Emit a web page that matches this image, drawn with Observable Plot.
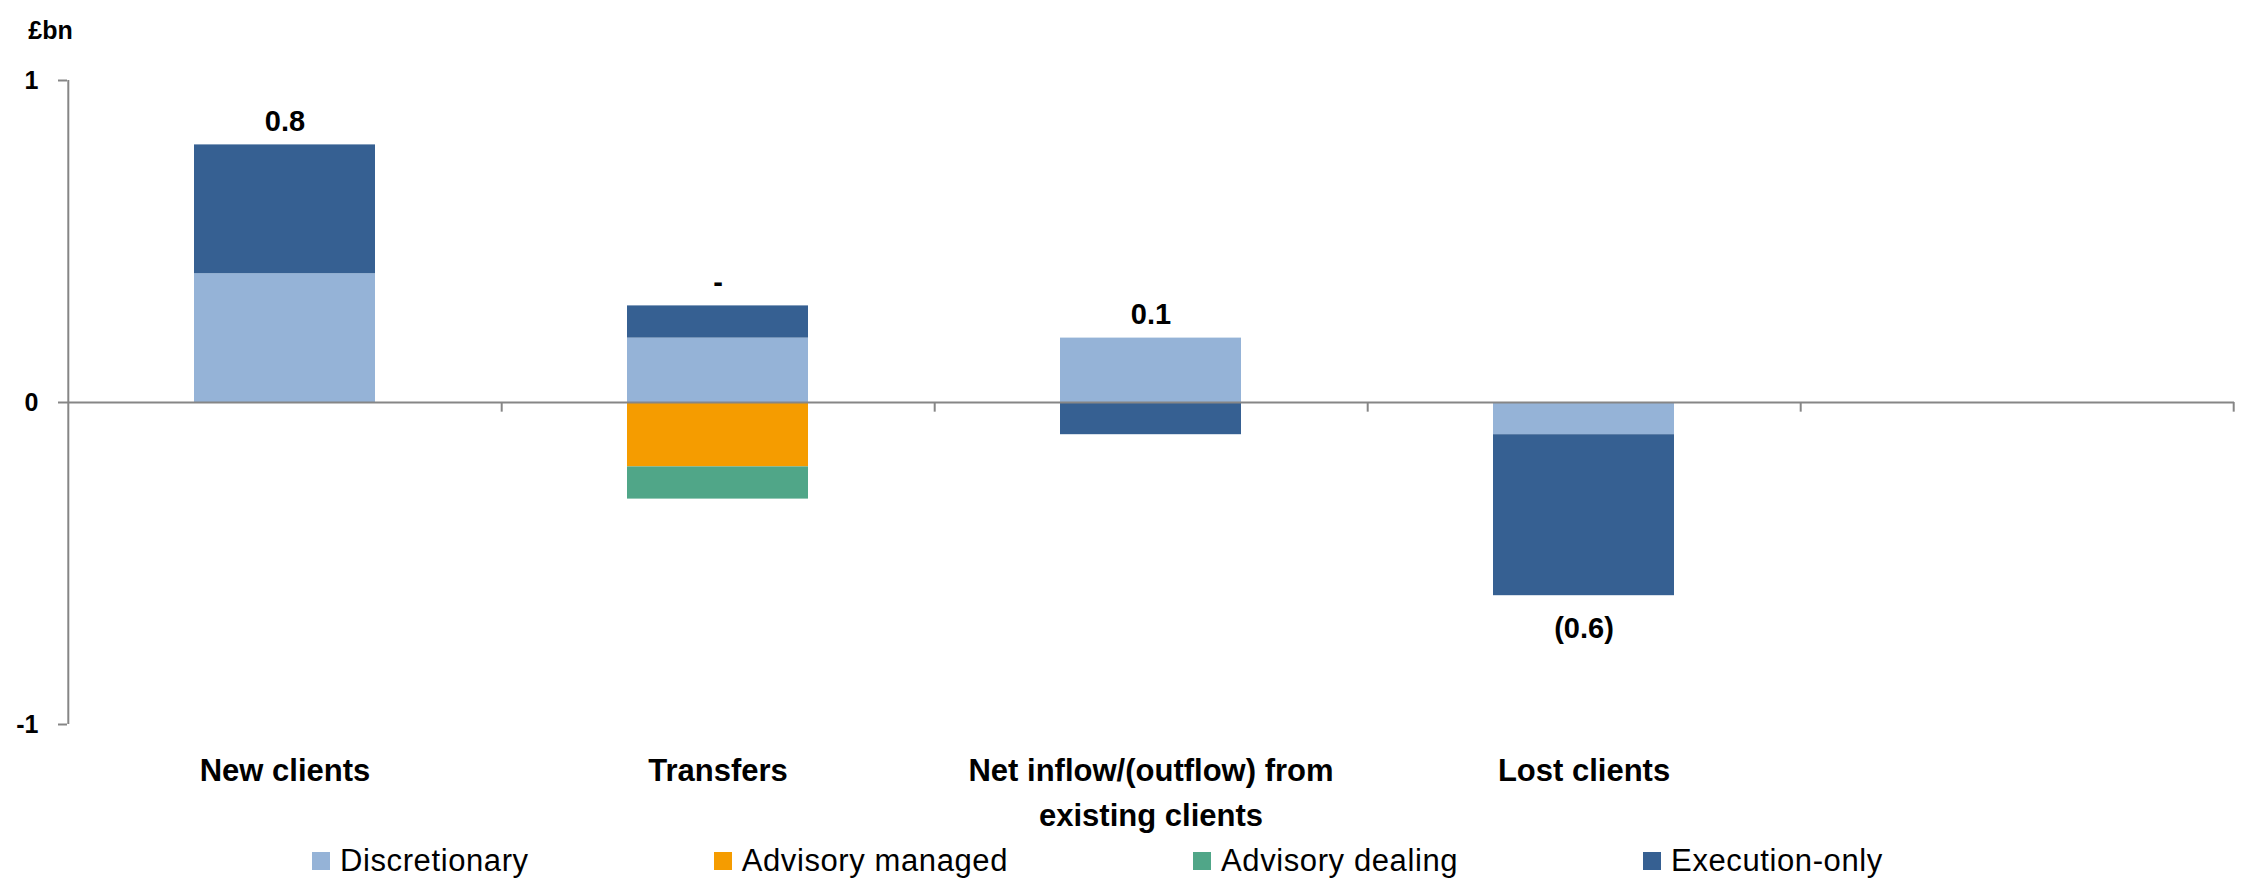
<!DOCTYPE html>
<html>
<head>
<meta charset="utf-8">
<script src="https://cdn.jsdelivr.net/npm/d3@7"></script>
<script src="https://cdn.jsdelivr.net/npm/@observablehq/plot@0.6"></script>
<style>
  html, body { margin: 0; padding: 0; background: #fff; }
  #chart svg { display: block; }
  .legend {
    display: flex; align-items: center; gap: 185px;
    padding-left: 312px; height: 42px;
    font-family: "Liberation Sans", Arial, sans-serif; font-size: 31px;
    letter-spacing: 0.6px; color: #000;
  }
  .legend .item { display: flex; align-items: center; gap: 10px; white-space: nowrap; }
  .legend .sw { width: 18px; height: 18px; display: inline-block; }
</style>
</head>
<body>
<div id="chart"></div>
<div class="legend" id="legend"></div>
<script>
// Flow categories (the last slot is left empty)
const categories = [
  "New clients",
  "Transfers",
  "Net inflow/(outflow) from\nexisting clients",
  "Lost clients",
  " "
];

// Series names and colours
const seriesNames = ["Discretionary", "Advisory managed", "Advisory dealing", "Execution-only"];
const seriesColors = ["#95B3D7", "#F59C00", "#50A688", "#366092"];

// Values in £bn, one per category
const discretionary   = [0.4,  0.2,  0.2, -0.1, null];
const advisoryManaged = [0.0, -0.2,  0.0,  0.0, null];
const advisoryDealing = [0.0, -0.1,  0.0,  0.0, null];
const executionOnly   = [0.4,  0.1, -0.1, -0.5, null];

// Y axis ticks
const yTicks = [-1, 0, 1];

const seriesValues = [discretionary, advisoryManaged, advisoryDealing, executionOnly];

// Long table: series order drives the stacking order
const rows = [];
categories.forEach((c, i) => {
  seriesNames.forEach((s, k) => {
    const v = seriesValues[k][i];
    if (v != null && v !== 0) rows.push({category: c, series: s, value: v});
  });
});

// Totals with the positive / negative stack extents for label placement
const totals = categories.slice(0, 4).map((c, i) => {
  const vals = seriesValues.map(a => a[i] || 0);
  const pos = d3.sum(vals.filter(v => v > 0));
  const neg = d3.sum(vals.filter(v => v < 0));
  const total = Math.round(d3.sum(vals) * 10) / 10;
  return {category: c, total, pos, neg};
});
const fmtTotal = t => t === 0 ? "-" : t < 0 ? `(${(-t).toFixed(1)})` : t.toFixed(1);

const W = 2242, H = 840;
const mL = 67, mR = 8, mT = 80, mB = 116;
const step = (W - mL - mR) / categories.length;
const font = '"Liberation Sans", Arial, sans-serif';
const axisGray = "#868686";

const chart = Plot.plot({
  width: W,
  height: H,
  marginLeft: mL,
  marginRight: mR,
  marginTop: mT,
  marginBottom: mB,
  style: {fontFamily: font, background: "#fff", color: "#000"},
  x: {domain: categories, paddingInner: 0.583, paddingOuter: 0.2915, axis: null},
  y: {domain: [-1, 1], axis: null},
  color: {domain: seriesNames, range: seriesColors},
  marks: [
    Plot.barY(rows, {x: "category", y: "value", fill: "series"}),
    // zero line
    Plot.ruleY([0], {stroke: axisGray, strokeWidth: 2}),
    // vertical axis line at the left edge of the first slot
    Plot.ruleX([categories[0]], {x: d => d, y1: -1, y2: 1, dx: -step / 2, stroke: axisGray, strokeWidth: 2}),
    // category separator ticks hanging from the zero line
    Plot.ruleX(categories, {x: d => d, y1: 0, y2: -0.03, dx: step / 2, stroke: axisGray, strokeWidth: 2}),
    Plot.axisY({
      ticks: yTicks, tickFormat: d => `${d}`, tickSize: 9, tickPadding: 20,
      fontSize: 25, fontWeight: "bold", stroke: axisGray, strokeWidth: 2, fill: "#000"
    }),
    Plot.text(["£bn"], {
      frameAnchor: "top-left", dx: -17, dy: -59, textAnchor: "middle",
      fontSize: 25, fontWeight: "bold", fill: "#000"
    }),
    // category labels
    Plot.text(categories, {
      x: d => d, frameAnchor: "bottom", lineAnchor: "top", dy: 25,
      fontSize: 31, fontWeight: "bold", lineHeight: 1.45, fill: "#000"
    }),
    // total labels
    Plot.text(totals.filter(d => d.total >= 0), {
      x: "category", y: "pos", text: d => fmtTotal(d.total), dy: -23,
      fontSize: 29, fontWeight: "bold", fill: "#000"
    }),
    Plot.text(totals.filter(d => d.total < 0), {
      x: "category", y: "neg", text: d => fmtTotal(d.total), dy: 33,
      fontSize: 29, fontWeight: "bold", fill: "#000"
    })
  ]
});
document.getElementById("chart").appendChild(chart);

// Legend
const legend = document.getElementById("legend");
seriesNames.forEach((s, k) => {
  const item = document.createElement("span");
  item.className = "item";
  const sw = document.createElement("span");
  sw.className = "sw";
  sw.style.background = seriesColors[k];
  const label = document.createElement("span");
  label.textContent = s;
  item.append(sw, label);
  legend.appendChild(item);
});
</script>
</body>
</html>
